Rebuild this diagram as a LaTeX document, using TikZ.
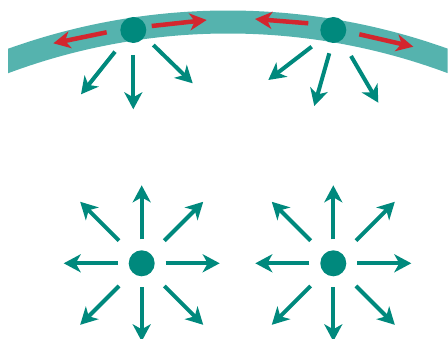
\documentclass[tikz,border=0pt]{standalone}
\usetikzlibrary{arrows.meta}
\definecolor{band}{HTML}{55B3AE}
\definecolor{teal}{HTML}{00897D}
\definecolor{redarr}{HTML}{D3262E}
\begin{document}
\begin{tikzpicture}[x=1pt,y=-1pt,
  dot/.style={circle,fill=teal,inner sep=0pt,minimum size=26pt},
  tarr/.style={draw=teal,line width=4pt,-{Stealth[length=17pt,width=18pt,inset=5pt]}},
  rarr/.style={draw=redarr,line width=4.5pt,-{Stealth[length=17pt,width=17pt,inset=5pt]}}]
\useasboundingbox (0,0) rectangle (448,339);
% band
\begin{scope}
\clip (8,0) rectangle (447.5,120);
\draw[band,line width=23pt] (228,662) ++(245:640) arc[start angle=245,end angle=295,radius=640];
\end{scope}
% top dots
\node[dot] (d1) at (133.3,30) {};
\node[dot] (d2) at (333.3,30) {};
% red arrows
\draw[rarr] ([shift={(-26.6,2.3)}]d1.center) -- ([shift={(-80,13.3)}]d1.center);
\draw[rarr] ([shift={(18.4,-4)}]d1.center) -- ([shift={(73.4,-10)}]d1.center);
\draw[rarr] ([shift={(-25,-6.7)}]d2.center) -- ([shift={(-78.3,-11)}]d2.center);
\draw[rarr] ([shift={(26,4.3)}]d2.center) -- ([shift={(80,16.7)}]d2.center);
% teal arrows under top dots
\draw[tarr] ([shift={(-18.3,21.7)}]d1.center) -- ([shift={(-52.3,64.3)}]d1.center);
\draw[tarr] ([shift={(0,25)}]d1.center) -- ([shift={(0,79.3)}]d1.center);
\draw[tarr] ([shift={(20,15)}]d1.center) -- ([shift={(59.4,53.3)}]d1.center);
\draw[tarr] ([shift={(-21.6,16.7)}]d2.center) -- ([shift={(-65,50)}]d2.center);
\draw[tarr] ([shift={(-4,23.3)}]d2.center) -- ([shift={(-19,76)}]d2.center);
\draw[tarr] ([shift={(17.7,26)}]d2.center) -- ([shift={(45,72.7)}]d2.center);
% bottom stars
\node[dot] (s1) at (141.7,263.3) {};
\node[dot] (s2) at (333.3,263.3) {};
\foreach \s in {s1,s2}{
  \foreach \a in {0,90,180,270}
    \draw[tarr] ([shift={(\a:24)}]\s.center) -- ([shift={(\a:78)}]\s.center);
  \foreach \a in {45,135,225,315}
    \draw[tarr] ([shift={(\a:32)}]\s.center) -- ([shift={(\a:87)}]\s.center);
}
\end{tikzpicture}
\end{document}
